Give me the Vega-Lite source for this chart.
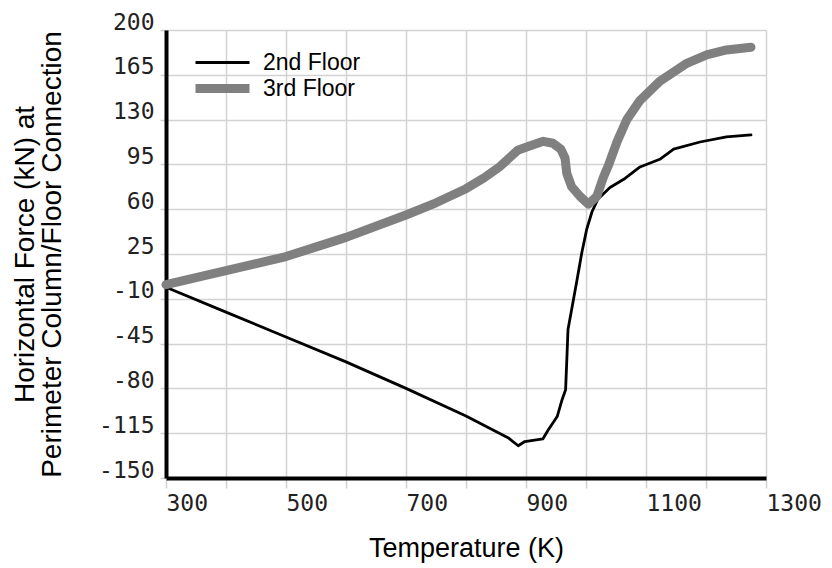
{
  "$schema": "https://vega.github.io/schema/vega-lite/v6.json",
  "width": 600,
  "height": 448,
  "autosize": {"type": "none"},
  "padding": {"left": 166, "top": 30, "right": 66, "bottom": 90},
  "background": "white",
  "config": {"view": {"stroke": null}, "font": "Liberation Sans"},
  "data": {
    "values": [
      {"series": "2nd Floor", "T": 300, "F": -1},
      {"series": "2nd Floor", "T": 400, "F": -20.4},
      {"series": "2nd Floor", "T": 500, "F": -39.8},
      {"series": "2nd Floor", "T": 600, "F": -59.3},
      {"series": "2nd Floor", "T": 700, "F": -80},
      {"series": "2nd Floor", "T": 800, "F": -101.5},
      {"series": "2nd Floor", "T": 845, "F": -112.5},
      {"series": "2nd Floor", "T": 870, "F": -118.5},
      {"series": "2nd Floor", "T": 887, "F": -124.8},
      {"series": "2nd Floor", "T": 898, "F": -121.5},
      {"series": "2nd Floor", "T": 928, "F": -119.5},
      {"series": "2nd Floor", "T": 937, "F": -112.5},
      {"series": "2nd Floor", "T": 952, "F": -102},
      {"series": "2nd Floor", "T": 960, "F": -89},
      {"series": "2nd Floor", "T": 966, "F": -81},
      {"series": "2nd Floor", "T": 968, "F": -58},
      {"series": "2nd Floor", "T": 970, "F": -34},
      {"series": "2nd Floor", "T": 977, "F": -16},
      {"series": "2nd Floor", "T": 985, "F": 4.7},
      {"series": "2nd Floor", "T": 993, "F": 26},
      {"series": "2nd Floor", "T": 1001, "F": 44},
      {"series": "2nd Floor", "T": 1010, "F": 58},
      {"series": "2nd Floor", "T": 1020, "F": 68},
      {"series": "2nd Floor", "T": 1040, "F": 77},
      {"series": "2nd Floor", "T": 1065, "F": 84},
      {"series": "2nd Floor", "T": 1090, "F": 93},
      {"series": "2nd Floor", "T": 1123, "F": 99},
      {"series": "2nd Floor", "T": 1146, "F": 107},
      {"series": "2nd Floor", "T": 1190, "F": 112.5},
      {"series": "2nd Floor", "T": 1234, "F": 116.5},
      {"series": "2nd Floor", "T": 1275, "F": 118},
      {"series": "3rd Floor", "T": 300, "F": 1},
      {"series": "3rd Floor", "T": 400, "F": 12},
      {"series": "3rd Floor", "T": 500, "F": 23},
      {"series": "3rd Floor", "T": 600, "F": 38},
      {"series": "3rd Floor", "T": 700, "F": 55.5},
      {"series": "3rd Floor", "T": 750, "F": 65},
      {"series": "3rd Floor", "T": 800, "F": 76},
      {"series": "3rd Floor", "T": 830, "F": 84.5},
      {"series": "3rd Floor", "T": 857, "F": 93.5},
      {"series": "3rd Floor", "T": 872, "F": 100},
      {"series": "3rd Floor", "T": 886, "F": 106},
      {"series": "3rd Floor", "T": 907, "F": 109.5},
      {"series": "3rd Floor", "T": 929, "F": 113},
      {"series": "3rd Floor", "T": 945, "F": 111.5},
      {"series": "3rd Floor", "T": 958, "F": 107},
      {"series": "3rd Floor", "T": 965, "F": 100},
      {"series": "3rd Floor", "T": 968, "F": 88},
      {"series": "3rd Floor", "T": 976, "F": 77.6},
      {"series": "3rd Floor", "T": 990, "F": 70},
      {"series": "3rd Floor", "T": 1004, "F": 64},
      {"series": "3rd Floor", "T": 1018, "F": 70},
      {"series": "3rd Floor", "T": 1029, "F": 85},
      {"series": "3rd Floor", "T": 1038, "F": 95},
      {"series": "3rd Floor", "T": 1052, "F": 113},
      {"series": "3rd Floor", "T": 1068, "F": 130},
      {"series": "3rd Floor", "T": 1090, "F": 145},
      {"series": "3rd Floor", "T": 1123, "F": 160},
      {"series": "3rd Floor", "T": 1168, "F": 174},
      {"series": "3rd Floor", "T": 1201, "F": 180.5},
      {"series": "3rd Floor", "T": 1234, "F": 184.4},
      {"series": "3rd Floor", "T": 1275, "F": 186.5}
    ]
  },
  "mark": {"type": "line", "strokeCap": "round", "strokeJoin": "round"},
  "encoding": {
    "x": {
      "field": "T",
      "type": "quantitative",
      "scale": {"domain": [300, 1300], "nice": false, "zero": false},
      "axis": {
        "title": "Temperature (K)",
        "titleFont": "Liberation Sans",
        "titleFontSize": 27,
        "titleFontWeight": "normal",
        "titleColor": "black",
        "titlePadding": 20,
        "values": [300, 400, 500, 600, 700, 800, 900, 1000, 1100, 1200, 1300],
        "labelExpr": "datum.value % 200 == 100 ? '' + datum.value : ''",
        "labelFont": "DejaVu Sans Mono",
        "labelFontSize": 23,
        "labelColor": "#222222",
        "labelAlign": "left",
        "labelBaseline": "top",
        "labelPadding": 4,
        "labelFlush": false,
        "labelOverlap": false,
        "labelBound": false,
        "tickColor": "#d0d0d0",
        "tickWidth": 1.5,
        "tickSize": 10,
        "domainColor": "black",
        "domainWidth": 4,
        "grid": true,
        "gridColor": "#d3d3d3",
        "gridWidth": 1.5
      }
    },
    "y": {
      "field": "F",
      "type": "quantitative",
      "scale": {"domain": [-150, 200], "nice": false, "zero": false},
      "axis": {
        "title": ["Horizontal Force (kN) at", "Perimeter Column/Floor Connection"],
        "titleFont": "Liberation Sans",
        "titleFontSize": 28,
        "titleFontWeight": "normal",
        "titleColor": "black",
        "titleLineHeight": 27,
        "titlePadding": 32,
        "values": [-150, -115, -80, -45, -10, 25, 60, 95, 130, 165, 200],
        "labelExpr": "'' + datum.value",
        "labelFont": "DejaVu Sans Mono",
        "labelFontSize": 23,
        "labelColor": "#222222",
        "labelBaseline": "alphabetic",
        "labelOffset": -1,
        "labelPadding": 6,
        "labelFlush": false,
        "labelOverlap": false,
        "labelBound": false,
        "tickColor": "#d0d0d0",
        "tickWidth": 1.5,
        "tickSize": 6,
        "domainColor": "black",
        "domainWidth": 4,
        "grid": true,
        "gridColor": "#d3d3d3",
        "gridWidth": 1.5
      }
    },
    "color": {
      "field": "series",
      "type": "nominal",
      "scale": {"domain": ["2nd Floor", "3rd Floor"], "range": ["#000000", "#808080"]},
      "legend": {
        "orient": "none",
        "legendX": 43,
        "legendY": 21,
        "title": null,
        "symbolType": "M-3,0H3",
        "symbolSize": 324,
        "labelFont": "Liberation Sans",
        "labelFontSize": 23,
        "labelColor": "black",
        "labelOffset": 27,
        "rowPadding": -10,
        "padding": 0
      }
    },
    "strokeWidth": {
      "field": "series",
      "type": "nominal",
      "scale": {"domain": ["2nd Floor", "3rd Floor"], "range": [2.8, 9]},
      "legend": {
        "orient": "none",
        "legendX": 43,
        "legendY": 21,
        "title": null,
        "symbolType": "M-3,0H3",
        "symbolSize": 324,
        "labelFont": "Liberation Sans",
        "labelFontSize": 23,
        "labelColor": "black",
        "labelOffset": 27,
        "rowPadding": -10,
        "padding": 0
      }
    }
  }
}
